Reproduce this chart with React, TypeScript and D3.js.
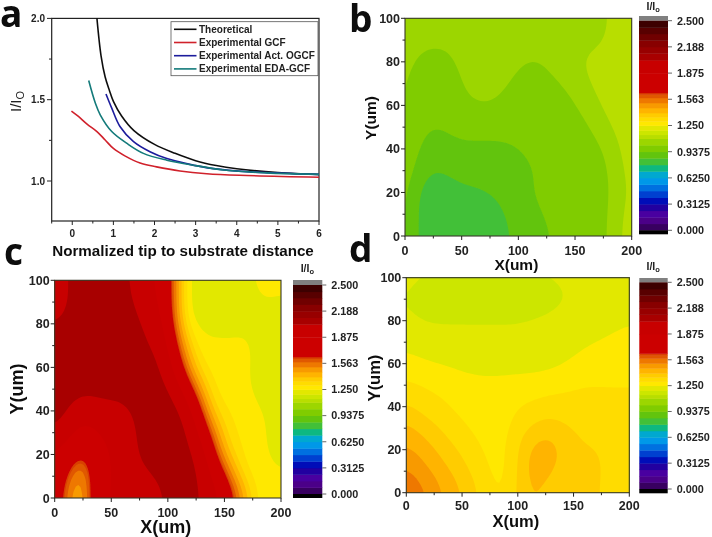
import React from "react";
import * as d3 from "d3";

// ---------- Panel a: curves [distance, I/Io] ----------
const theoretical = [[0.6,2.0],[0.7,1.77],[0.8,1.64],[0.9,1.56],[1,1.49],[1.2,1.40],[1.5,1.31],[2,1.225],[2.5,1.17],[3,1.125],[3.5,1.095],[4,1.075],[5,1.052],[6,1.04]];
const expGCF = [[-0.02,1.43],[0.15,1.397],[0.36,1.35],[0.6,1.304],[0.8,1.252],[1,1.2],[1.29,1.153],[1.65,1.11],[2.05,1.087],[2.62,1.062],[3.27,1.045],[4.07,1.035],[6,1.023]];
const expOGCF = [[0.82,1.535],[0.96,1.448],[1.16,1.335],[1.49,1.242],[1.89,1.18],[2.3,1.138],[2.78,1.107],[3.43,1.076],[4.32,1.056],[6,1.041]];
const expEDA = [[0.4,1.618],[0.56,1.48],[0.68,1.407],[0.96,1.304],[1.33,1.231],[1.73,1.17],[2.3,1.128],[2.94,1.097],[3.75,1.066],[4.72,1.05],[6,1.041]];
const legendNames = ["Theoretical","Experimental GCF","Experimental Act. OGCF","Experimental EDA-GCF"];
const lineColors = ["#111111","#d0202c","#1c1c9c","#127a7a"];
const aXTicks = [0,1,2,3,4,5,6];
const aYTicks = [1.0,1.5,2.0];

// ---------- Colour scale: lower bound of each band and its colour ----------
const bandStarts = [0,0.078,0.156,0.234,0.3125,0.39,0.469,0.547,0.625,0.703,0.781,0.859,0.9375,1.016,1.094,1.14,1.19,1.25,1.30,1.35,1.40,1.46,1.52,1.58,1.62,1.64,1.875,2.03,2.11,2.188,2.266,2.344,2.42];
const bandColors = ["#380060","#4c0088","#4800a0","#2000a0","#0010b8","#0040d0","#0070e0","#0098e8","#00a8d0","#10b880","#42c038","#62c410","#80cc00","#9cd600","#b8de00","#cce600","#e2e800","#ffe800","#ffdc00","#ffcc00","#ffb400","#f89a00","#ee7800","#e05800","#d84000","#cc0000","#c80000","#a80000","#980000","#880000","#700000","#580000","#3c0000"];
const barTicks = ["0.000","0.3125","0.6250","0.9375","1.250","1.563","1.875","2.188","2.500"];

// ---------- Contour maps: rows from Y=100 down to Y=0 (step 10), columns X=0..200 (step 12.5) ----------
const panelB = [
[1.04,1.04,1.04,1.04,1.04,1.07,1.07,1.07,1.07,1.07,1.02,1.00,1.07,1.07,1.08,1.12,1.13],
[1.04,1.03,1.04,1.03,1.04,1.06,1.07,1.07,1.07,1.07,1.03,1.02,1.07,1.07,1.08,1.12,1.13],
[1.03,1.01,0.98,1.00,1.03,1.06,1.07,1.07,1.03,0.99,1.05,1.06,1.095,1.12,1.12,1.13,1.13],
[1.03,0.99,0.97,0.98,1.01,1.05,1.07,1.03,0.98,0.97,0.98,1.01,1.05,1.10,1.12,1.13,1.13],
[1.03,0.98,0.97,0.98,1.00,1.01,1.01,0.98,0.97,0.97,0.97,0.98,1.00,1.07,1.11,1.13,1.13],
[1.03,0.96,0.93,0.95,0.97,0.97,0.97,0.97,0.97,0.97,0.97,0.97,0.97,1.00,1.08,1.12,1.13],
[1.02,0.92,0.90,0.905,0.92,0.91,0.91,0.91,0.93,0.95,0.97,0.97,0.97,0.97,1.00,1.10,1.13],
[1.01,0.90,0.85,0.87,0.89,0.895,0.91,0.92,0.92,0.93,0.94,0.95,0.97,0.97,0.97,1.08,1.13],
[1.00,0.81,0.81,0.82,0.84,0.84,0.85,0.88,0.925,0.945,0.96,0.96,0.97,0.97,0.97,1.06,1.12],
[1.00,0.81,0.81,0.81,0.82,0.82,0.83,0.84,0.90,0.92,0.945,0.96,0.97,0.97,0.97,1.09,1.13],
[1.00,0.81,0.81,0.81,0.82,0.82,0.83,0.84,0.875,0.91,0.93,0.95,0.97,0.97,0.97,1.10,1.13],
];
const panelC = [
[1.90,2.08,2.09,2.09,2.09,2.07,1.95,1.85,1.86,1.26,1.21,1.20,1.20,1.22,1.26,1.27,1.27],
[1.90,2.05,2.09,2.09,2.09,2.08,2.00,1.88,1.86,1.24,1.20,1.20,1.20,1.21,1.23,1.26,1.24],
[2.05,2.08,2.09,2.09,2.09,2.09,2.07,1.94,1.90,1.26,1.22,1.24,1.21,1.24,1.23,1.22,1.20],
[2.09,2.09,2.09,2.09,2.09,2.09,2.09,2.00,1.98,1.50,1.26,1.27,1.27,1.27,1.26,1.22,1.20],
[2.09,2.09,2.09,2.09,2.09,2.09,2.09,2.09,1.98,1.68,1.27,1.28,1.27,1.27,1.25,1.20,1.20],
[2.09,2.09,2.09,2.09,2.09,2.09,2.09,2.09,2.07,1.95,1.55,1.27,1.28,1.27,1.25,1.20,1.20],
[2.09,2.05,1.90,1.98,1.98,2.00,2.09,2.09,2.09,2.06,1.90,1.30,1.30,1.28,1.27,1.26,1.20],
[2.06,1.95,1.80,1.88,1.90,1.90,2.09,2.09,2.09,2.09,1.95,1.66,1.30,1.30,1.27,1.26,1.20],
[1.85,1.78,1.52,1.85,1.88,1.92,2.09,2.09,2.09,2.09,2.05,1.85,1.35,1.30,1.27,1.26,1.21],
[1.85,1.60,1.35,1.85,1.88,1.90,1.98,2.04,2.09,2.09,2.08,1.90,1.80,1.27,1.28,1.27,1.27],
[1.85,1.45,1.35,1.90,1.88,1.90,1.92,1.95,2.06,2.09,2.08,1.95,1.85,1.66,1.27,1.27,1.27],
];
const panelD = [
[1.20,1.20,1.20,1.20,1.20,1.20,1.20,1.20,1.20,1.20,1.20,1.20,1.20,1.21,1.21,1.21,1.21],
[1.19,1.165,1.16,1.16,1.16,1.16,1.16,1.16,1.16,1.16,1.165,1.175,1.185,1.205,1.21,1.21,1.22],
[1.195,1.185,1.185,1.185,1.185,1.185,1.185,1.185,1.185,1.195,1.20,1.205,1.21,1.215,1.22,1.235,1.25],
[1.24,1.22,1.21,1.21,1.21,1.21,1.21,1.21,1.21,1.21,1.21,1.215,1.23,1.25,1.26,1.27,1.27],
[1.27,1.26,1.255,1.245,1.24,1.23,1.23,1.23,1.23,1.23,1.23,1.24,1.26,1.27,1.27,1.27,1.27],
[1.31,1.30,1.29,1.28,1.27,1.27,1.27,1.27,1.27,1.27,1.28,1.29,1.295,1.305,1.30,1.30,1.30],
[1.36,1.33,1.32,1.30,1.28,1.27,1.26,1.27,1.30,1.31,1.32,1.32,1.32,1.32,1.32,1.32,1.32],
[1.42,1.38,1.36,1.33,1.31,1.29,1.27,1.28,1.33,1.345,1.385,1.36,1.35,1.33,1.33,1.33,1.33],
[1.48,1.44,1.40,1.37,1.34,1.31,1.29,1.28,1.35,1.43,1.455,1.42,1.36,1.36,1.355,1.33,1.33],
[1.54,1.50,1.44,1.40,1.37,1.33,1.29,1.27,1.35,1.44,1.43,1.37,1.36,1.36,1.355,1.33,1.33],
[1.58,1.55,1.52,1.44,1.41,1.36,1.32,1.28,1.37,1.41,1.37,1.36,1.36,1.36,1.35,1.33,1.33],
];
const heatXTicks = [0,50,100,150,200];
const heatYTicks = [0,20,40,60,80,100];

const FONT = "'Liberation Sans', Arial, sans-serif";
const INK = "#222";
const REFINE = 6;

// Rendering step only: resample the read grid finely and soften it so the contour lines are curved.
function refine(grid: number[][]) {
  const ny = grid.length, nx = grid[0].length;
  const w = (nx - 1) * REFINE + 1, h = (ny - 1) * REFINE + 1;
  const data = new Float64Array(w * h);
  for (let j = 0; j < h; j++) {
    const fy = j / REFINE, j0 = Math.min(Math.floor(fy), ny - 2), ty = fy - j0;
    for (let i = 0; i < w; i++) {
      const fx = i / REFINE, i0 = Math.min(Math.floor(fx), nx - 2), tx = fx - i0;
      data[j * w + i] =
        (grid[j0][i0] * (1 - tx) + grid[j0][i0 + 1] * tx) * (1 - ty) +
        (grid[j0 + 1][i0] * (1 - tx) + grid[j0 + 1][i0 + 1] * tx) * ty;
    }
  }
  d3.blur2({ data, width: w, height: h }, REFINE * 0.55);
  return { data, w, h };
}

function LinePanel() {
  const x = d3.scaleLinear().domain([-0.5, 6]).range([51.7, 319]);
  const y = d3.scaleLinear().domain([1, 2]).range([181, 18.4]);
  const bottom = 221;
  const line = d3.line<number[]>().x(d => x(d[0])).y(d => y(d[1])).curve(d3.curveCatmullRom.alpha(0.5));
  const series = [theoretical, expGCF, expOGCF, expEDA];
  const minorX = d3.range(-0.5, 6.01, 0.5);
  const minorY = [1.25, 1.75];
  return (
    <g>
      <rect x={51.7} y={18.4} width={267.3} height={bottom - 18.4} fill="#fff" stroke={INK} strokeWidth={1.2} />
      {series.map((s, i) => <path key={i} d={line(s) ?? ""} fill="none" stroke={lineColors[i]} strokeWidth={1.6} />)}
      {minorX.map(t => <line key={t} x1={x(t)} x2={x(t)} y1={bottom} y2={bottom + (Number.isInteger(t) ? 4 : 2.5)} stroke={INK} strokeWidth={1} />)}
      {aYTicks.map(t => <line key={t} x1={51.7} x2={47} y1={y(t)} y2={y(t)} stroke={INK} strokeWidth={1} />)}
      {minorY.map(t => <line key={t} x1={51.7} x2={49} y1={y(t)} y2={y(t)} stroke={INK} strokeWidth={1} />)}
      {aXTicks.map(t => <text key={t} x={x(t)} y={237} textAnchor="middle" fontSize={10} fontWeight={700} fontFamily={FONT} fill={INK}>{t}</text>)}
      {aYTicks.map(t => <text key={t} x={45} y={y(t) + 3.5} textAnchor="end" fontSize={10} fontWeight={700} fontFamily={FONT} fill={INK}>{t.toFixed(1)}</text>)}
      <text x={183} y={256} textAnchor="middle" fontSize={15.2} fontWeight={700} fontFamily={FONT} fill="#111">Normalized tip to substrate distance</text>
      <text transform="translate(21,112) rotate(-90)" fontSize={15} fontFamily={FONT} fill={INK}>I/I<tspan fontSize={11} dy={3}>O</tspan></text>
      <rect x={171} y={21.7} width={147} height={54} fill="#fff" stroke="#555" strokeWidth={0.8} />
      {legendNames.map((n, i) => {
        const ly = 29.3 + i * 13.2;
        return (
          <g key={n}>
            <line x1={174} x2={196.5} y1={ly} y2={ly} stroke={lineColors[i]} strokeWidth={1.6} />
            <text x={199} y={ly + 3.4} fontSize={10} fontWeight={700} fontFamily={FONT} fill="#222">{n}</text>
          </g>
        );
      })}
    </g>
  );
}

type HeatProps = {
  id: string; grid: number[][]; x0: number; x1: number; y0: number; y1: number;
  barX0: number; barX1: number; barTop: number; barBottom: number; tickTop: number; tickBottom: number;
  titleY: number; labelSize: number; xLabelY: number; yLabelX: number; yLabelY: number; tickLabelY: number;
};

function HeatPanel(p: HeatProps) {
  const x = d3.scaleLinear().domain([0, 200]).range([p.x0, p.x1]);
  const y = d3.scaleLinear().domain([0, 100]).range([p.y1, p.y0]);
  const fine = refine(p.grid);
  const transform = d3.geoTransform({
    point(this: any, cx: number, cy: number) {
      this.stream.point(x(((cx - 0.5) / REFINE) * 12.5), y(100 - ((cy - 0.5) / REFINE) * 10));
    },
  });
  const path = d3.geoPath(transform);
  const gen = d3.contours().size([fine.w, fine.h]);
  const maxV = d3.max(fine.data)!;
  const bar = d3.scaleLinear().domain([0, 2.5]).range([p.tickBottom, p.tickTop]);
  const tickSize = 12.5;
  return (
    <g>
      <clipPath id={p.id}><rect x={p.x0} y={p.y0} width={p.x1 - p.x0} height={p.y1 - p.y0} /></clipPath>
      <g clipPath={`url(#${p.id})`}>
        {bandStarts.map((t, i) => {
          if (t > maxV) return null;
          return <path key={i} d={path(gen.contour(fine.data as any, t) as any) ?? ""} fill={bandColors[i]} />;
        })}
      </g>
      <rect x={p.x0} y={p.y0} width={p.x1 - p.x0} height={p.y1 - p.y0} fill="none" stroke="#3a3a2a" strokeWidth={1.1} />
      {d3.range(0, 201, 25).map(t => <line key={t} x1={x(t)} x2={x(t)} y1={p.y1} y2={p.y1 + (t % 50 === 0 ? 4 : 2.5)} stroke={INK} />)}
      {d3.range(0, 101, 10).map(t => <line key={t} x1={p.x0} x2={p.x0 - (t % 20 === 0 ? 4 : 2.5)} y1={y(t)} y2={y(t)} stroke={INK} />)}
      {heatXTicks.map(t => <text key={t} x={x(t)} y={p.tickLabelY} textAnchor="middle" fontSize={tickSize} fontWeight={700} fontFamily={FONT} fill="#222">{t}</text>)}
      {heatYTicks.map(t => <text key={t} x={p.x0 - 5} y={y(t) + tickSize * 0.36} textAnchor="end" fontSize={tickSize} fontWeight={700} fontFamily={FONT} fill="#222">{t}</text>)}
      <text x={(p.x0 + p.x1) / 2 - 2} y={p.xLabelY} textAnchor="middle" fontSize={p.labelSize} fontWeight={700} fontFamily={FONT} fill="#111">X(um)</text>
      <text transform={`translate(${p.yLabelX},${p.yLabelY}) rotate(-90)`} textAnchor="middle" fontSize={p.labelSize} fontWeight={700} fontFamily={FONT} fill="#111">Y(um)</text>
      <rect x={p.barX0} y={p.barTop} width={p.barX1 - p.barX0} height={bar(2.5) - p.barTop} fill="#808080" />
      {bandStarts.map((t, i) => {
        const next = i + 1 < bandStarts.length ? bandStarts[i + 1] : 2.5;
        return <rect key={t} x={p.barX0} y={bar(next)} width={p.barX1 - p.barX0} height={bar(t) - bar(next) + 0.4} fill={bandColors[i]} />;
      })}
      <rect x={p.barX0} y={bar(0)} width={p.barX1 - p.barX0} height={p.barBottom - bar(0)} fill="#000" />
      {barTicks.map(s => (
        <g key={s}>
          <line x1={p.barX1} x2={p.barX1 + 4} y1={bar(+s)} y2={bar(+s)} stroke="#666" />
          <text x={p.barX1 + 9} y={bar(+s) + 3.8} fontSize={10.8} fontWeight={700} fontFamily={FONT} fill="#222">{s}</text>
        </g>
      ))}
      <text x={(p.barX0 + p.barX1) / 2 - 7} y={p.titleY} fontSize={10.5} fontWeight={700} fontFamily={FONT} fill="#222">I/I<tspan fontSize={7.5} dy={2}>o</tspan></text>
    </g>
  );
}

const letters = [["a", 0, 27], ["b", 349, 32], ["c", 4, 265], ["d", 349, 262]] as const;

export default function App() {
  return (
    <svg width={712} height={537} style={{ position: "absolute", left: 0, top: 0, background: "#fff" }}>
      <defs><filter id="soft" x="0" y="0" width="100%" height="100%"><feGaussianBlur stdDeviation={0.45} /></filter></defs>
      <g filter="url(#soft)">
        <rect width={712} height={537} fill="#fff" />
        <LinePanel />
        <HeatPanel id="clipB" grid={panelB} x0={405} x1={631.7} y0={18.3} y1={236} barX0={639} barX1={668} barTop={16} barBottom={234.3} tickTop={20.7} tickBottom={230.3} titleY={10} labelSize={15.5} xLabelY={270} yLabelX={376} yLabelY={118} tickLabelY={255} />
        <HeatPanel id="clipC" grid={panelC} x0={54.7} x1={281} y0={280.3} y1={498} barX0={293} barX1={322.3} barTop={280} barBottom={498} tickTop={285} tickBottom={494} titleY={272} labelSize={18} xLabelY={533} yLabelX={23} yLabelY={389} tickLabelY={517} />
        <HeatPanel id="clipD" grid={panelD} x0={406.3} x1={629.3} y0={277.7} y1={492.7} barX0={639.3} barX1={667.7} barTop={278} barBottom={493.3} tickTop={282.3} tickBottom={489} titleY={270} labelSize={16.5} xLabelY={527} yLabelX={380} yLabelY={378} tickLabelY={510} />
        {letters.map(([t, lx, ly]) => (
          <text key={t} x={lx} y={ly} fontSize={37} fontWeight={700} fontFamily="'Open Sans', sans-serif" fill="#0a0a0a">{t}</text>
        ))}
      </g>
    </svg>
  );
}
